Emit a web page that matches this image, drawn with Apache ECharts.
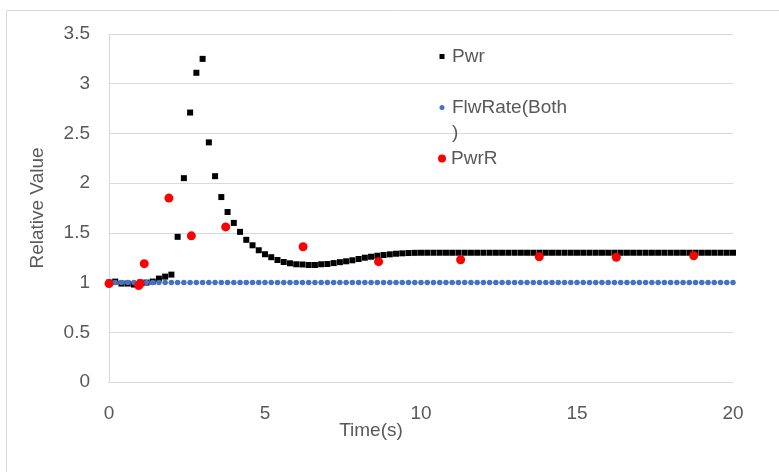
<!DOCTYPE html>
<html>
<head>
<meta charset="utf-8">
<script src="https://cdn.jsdelivr.net/npm/echarts@6/dist/echarts.min.js"></script>
<style>
html,body{margin:0;padding:0;background:#fff;}
#chart{width:779px;height:472px;}
</style>
</head>
<body>
<div id="chart"></div>
<script>
// Sample times (s) for the Pwr and FlwRate(Both) series
var timeS = [
  0, 0.2, 0.4, 0.6, 0.8, 1.0, 1.2, 1.4, 1.6, 1.8,
  2.0, 2.2, 2.4, 2.6, 2.8, 3.0, 3.2, 3.4, 3.6, 3.8,
  4.0, 4.2, 4.4, 4.6, 4.8, 5.0, 5.2, 5.4, 5.6, 5.8,
  6.0, 6.2, 6.4, 6.6, 6.8, 7.0, 7.2, 7.4, 7.6, 7.8,
  8.0, 8.2, 8.4, 8.6, 8.8, 9.0, 9.2, 9.4, 9.6, 9.8,
  10.0, 10.2, 10.4, 10.6, 10.8, 11.0, 11.2, 11.4, 11.6, 11.8,
  12.0, 12.2, 12.4, 12.6, 12.8, 13.0, 13.2, 13.4, 13.6, 13.8,
  14.0, 14.2, 14.4, 14.6, 14.8, 15.0, 15.2, 15.4, 15.6, 15.8,
  16.0, 16.2, 16.4, 16.6, 16.8, 17.0, 17.2, 17.4, 17.6, 17.8,
  18.0, 18.2, 18.4, 18.6, 18.8, 19.0, 19.2, 19.4, 19.6, 19.8,
  20.0
];
var pwr = [
  1.00, 1.01, 0.99, 0.99, 0.98, 1.00, 1.00, 1.01, 1.04, 1.06,
  1.08, 1.46, 2.05, 2.71, 3.11, 3.25, 2.41, 2.07, 1.86, 1.71,
  1.60, 1.51, 1.43, 1.375, 1.325, 1.285, 1.255, 1.227, 1.207, 1.194,
  1.184, 1.182, 1.177, 1.177, 1.184, 1.187, 1.196, 1.205, 1.214, 1.224,
  1.237, 1.25, 1.26, 1.27, 1.277, 1.284, 1.29, 1.294, 1.297, 1.299,
  1.30, 1.30, 1.30, 1.30, 1.30, 1.30, 1.30, 1.30, 1.30, 1.30,
  1.30, 1.30, 1.30, 1.30, 1.30, 1.30, 1.30, 1.30, 1.30, 1.30,
  1.30, 1.30, 1.30, 1.30, 1.30, 1.30, 1.30, 1.30, 1.30, 1.30,
  1.30, 1.30, 1.30, 1.30, 1.30, 1.30, 1.30, 1.30, 1.30, 1.30,
  1.30, 1.30, 1.30, 1.30, 1.30, 1.30, 1.30, 1.30, 1.30, 1.30,
  1.30
];
var flwRate = [
  1, 1, 1, 1, 1, 1, 1, 1, 1, 1,
  1, 1, 1, 1, 1, 1, 1, 1, 1, 1,
  1, 1, 1, 1, 1, 1, 1, 1, 1, 1,
  1, 1, 1, 1, 1, 1, 1, 1, 1, 1,
  1, 1, 1, 1, 1, 1, 1, 1, 1, 1,
  1, 1, 1, 1, 1, 1, 1, 1, 1, 1,
  1, 1, 1, 1, 1, 1, 1, 1, 1, 1,
  1, 1, 1, 1, 1, 1, 1, 1, 1, 1,
  1, 1, 1, 1, 1, 1, 1, 1, 1, 1,
  1, 1, 1, 1, 1, 1, 1, 1, 1, 1,
  1
];
var pwrRTime = [0, 0.95, 1.0, 1.13, 1.92, 2.64, 3.74, 6.22, 8.64, 11.27, 13.79, 16.26, 18.74];
var pwrR     = [0.99, 0.97, 0.99, 1.19, 1.85, 1.47, 1.56, 1.36, 1.21, 1.23, 1.26, 1.255, 1.27];

var seriesNames = ['Pwr', 'FlwRate(Both)', 'PwrR'];
var xTicks = {min: 0, max: 20, interval: 5};
var yTicks = {min: 0, max: 3.5, interval: 0.5};

function pairs(xs, ys) {
  var out = [];
  for (var i = 0; i < ys.length; i++) out.push([xs[i], ys[i]]);
  return out;
}

var FONT = '"Liberation Sans", Arial, sans-serif';
var TXT = '#595959';
var GRID = '#d9d9d9';
var FS = 19;

var chart = echarts.init(document.getElementById('chart'), null, {renderer: 'canvas'});
chart.setOption({
  animation: false,
  backgroundColor: '#ffffff',
  textStyle: {fontFamily: FONT},
  grid: {left: 109, top: 34, right: 46, bottom: 90, containLabel: false},
  graphic: [
    {type: 'line', shape: {x1: 6.5, y1: 10.5, x2: 779, y2: 10.5}, style: {stroke: GRID, lineWidth: 1}, silent: true},
    {type: 'line', shape: {x1: 6.5, y1: 10.5, x2: 6.5, y2: 472}, style: {stroke: GRID, lineWidth: 1}, silent: true}
  ],
  legend: [
    {
      data: [seriesNames[0]], orient: 'vertical', left: 439.5, top: 44, padding: 0,
      itemWidth: 5, itemHeight: 5, icon: 'rect',
      textStyle: {fontFamily: FONT, fontSize: FS, color: TXT, lineHeight: 25, padding: [0, 0, 0, 2.5]}
    },
    {
      data: [seriesNames[1]], orient: 'vertical', left: 439.5, top: 70, padding: 0,
      itemWidth: 5, itemHeight: 5, icon: 'circle',
      formatter: function (n) { return '\n' + n.replace(')', '\n)'); },
      textStyle: {fontFamily: FONT, fontSize: FS, color: TXT, lineHeight: 25, padding: [0, 0, 0, 2.5]}
    },
    {
      data: [seriesNames[2]], orient: 'vertical', left: 438, top: 146, padding: 0,
      itemWidth: 8, itemHeight: 8, icon: 'circle',
      textStyle: {fontFamily: FONT, fontSize: FS, color: TXT, lineHeight: 25}
    }
  ],
  xAxis: {
    type: 'value', min: xTicks.min, max: xTicks.max, interval: xTicks.interval,
    name: 'Time(s)', nameLocation: 'middle', nameGap: 39, nameMoveOverlap: false,
    nameTextStyle: {fontFamily: FONT, fontSize: FS, color: TXT, padding: [0, 100, 0, 0]},
    axisLine: {show: true, lineStyle: {color: GRID, width: 1}},
    axisTick: {show: false},
    splitLine: {show: false},
    axisLabel: {fontFamily: FONT, fontSize: FS, color: TXT, margin: 22}
  },
  yAxis: {
    type: 'value', min: yTicks.min, max: yTicks.max, interval: yTicks.interval,
    name: 'Relative Value', nameLocation: 'middle', nameGap: 62, nameMoveOverlap: false,
    nameTextStyle: {fontFamily: FONT, fontSize: FS, color: TXT},
    axisLine: {show: true, lineStyle: {color: GRID, width: 1}},
    axisTick: {show: false},
    splitLine: {show: true, lineStyle: {color: GRID, width: 1}},
    axisLabel: {fontFamily: FONT, fontSize: FS, color: TXT, margin: 19}
  },
  series: [
    {
      name: seriesNames[0], type: 'scatter', symbol: 'rect', symbolSize: 6,
      itemStyle: {color: '#000000', opacity: 1}, data: pairs(timeS, pwr), z: 2
    },
    {
      name: seriesNames[1], type: 'scatter', symbol: 'circle', symbolSize: 5.5,
      itemStyle: {color: '#4472C4', opacity: 1}, data: pairs(timeS, flwRate), z: 3
    },
    {
      name: seriesNames[2], type: 'scatter', symbol: 'circle', symbolSize: 9,
      itemStyle: {color: '#FF0000', opacity: 1}, data: pairs(pwrRTime, pwrR), z: 4
    }
  ]
});
</script>
</body>
</html>
